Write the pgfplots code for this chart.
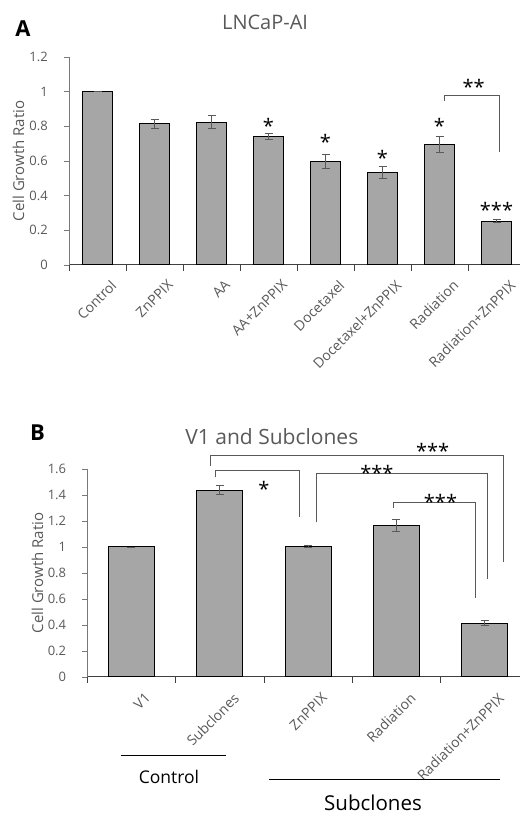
\documentclass[border=0pt]{standalone}
\usepackage{fontspec}
\setmainfont{Open Sans}
\usepackage{pgfplots}
\pgfplotsset{compat=1.18}
\definecolor{barfill}{HTML}{A6A6A6}
\definecolor{txtgray}{HTML}{595959}
\definecolor{errgray}{HTML}{595959}
\definecolor{axgray}{HTML}{404040}
\newcommand{\fs}[1]{\fontsize{#1bp}{#1bp}\selectfont}
\pgfplotsset{
  mybars/.style={
    scale only axis,
    ybar,
    bar shift=0pt,
    ymin=0,
    axis x line*=bottom,
    axis y line*=left,
    x axis line style={draw=axgray, line width=1bp},
    y axis line style={draw=axgray!70, line width=0.8bp},
    tick align=outside,
    xtick=data,
    major x tick style={draw=none},
    minor x tick style={draw=axgray, line width=0.8bp},
    minor tick length=6bp,
    major tick length=5bp,
    y tick style={draw=axgray!70, line width=0.8bp},
    yticklabel style={font=\fs{13}, text=txtgray, inner sep=0pt},
    xticklabel style={font=\fs{14}, text=txtgray, inner sep=0pt, rotate=45, anchor=north east},
    /pgf/number format/assume math mode=true,
    clip=false,
    error bars/y dir=both,
    error bars/y explicit,
    error bars/error bar style={draw=errgray, line width=0.9bp},
    error bars/error mark options={draw=errgray, line width=0.9bp, mark size=4bp, rotate=90},
  }
}
\begin{document}
\begin{tikzpicture}[x=1bp,y=1bp]
\path[use as bounding box] (0,0) rectangle (520,815);
% ---------------- Panel A ----------------
\node[font=\bfseries\fs{22}] at (23,{815-29}) {A};
\begin{axis}[mybars,
  at={(69bp,550bp)}, anchor=south west,
  width=456bp, height=208bp,
  xmin=-0.5, xmax=7.5, ymax=1.2,
  ytick={0,0.2,...,1.2},
  minor xtick={-0.5,0.5,...,7.5},
  bar width=30bp,
  xticklabels={Control,ZnPPIX,AA,AA+ZnPPIX,Docetaxel,Docetaxel+ZnPPIX,Radiation,Radiation+ZnPPIX},
  xticklabel style={xshift=2.5bp, yshift=-15bp},
  yticklabel style={xshift=-16bp},
  ylabel={Cell Growth Ratio},
  every axis y label/.style={at={(axis description cs:-0.111,0.5)}, rotate=90, anchor=center, font=\fs{15}, text=txtgray},
  title={LNCaP-AI},
  every axis title/.style={at={(axis description cs:0.43,1.168)}, anchor=center, font=\fs{20}, text=txtgray},
]
\addplot[fill=barfill, draw=black, line width=1bp] coordinates {
  (0,1.000) +- (0,0)
  (1,0.814) +- (0,0.028)
  (2,0.824) +- (0,0.036)
  (3,0.740) +- (0,0.016)
  (4,0.597) +- (0,0.038)
  (5,0.532) +- (0,0.034)
  (6,0.695) +- (0,0.046)
  (7,0.252) +- (0,0.009)
};
\begin{scope}[every node/.style={font=\fs{20}, inner sep=0pt}]
\node at (axis cs:3,0.80) {*};
\node at (axis cs:4,0.71) {*};
\node at (axis cs:5,0.62) {*};
\node at (axis cs:6,0.80) {*};
\node at (axis cs:7,0.32) {***};
\node at (axis cs:6.6,1.03) {**};
\end{scope}
\draw[errgray, line width=0.9bp] (axis cs:6.08,0.946) -- (axis cs:6.08,0.98) -- (axis cs:7.05,0.98) -- (axis cs:7.05,0.654);
\end{axis}
% ---------------- Panel B ----------------
\node[font=\bfseries\fs{22}] at (37.5,{815-432.5}) {B};
\begin{axis}[mybars,
  at={(87.3bp,138bp)}, anchor=south west,
  width=441.5bp, height=208bp,
  xmin=-0.5, xmax=4.5, ymax=1.6,
  ytick={0,0.2,...,1.6},
  minor xtick={-0.5,0.5,...,4.5},
  bar width=46bp,
  xticklabels={V1,Subclones,ZnPPIX,Radiation,Radiation+ZnPPIX},
  xticklabel style={xshift=2bp, yshift=-16bp},
  yticklabel style={xshift=-16bp},
  ylabel={Cell Growth Ratio},
  every axis y label/.style={at={(axis description cs:-0.113,0.5)}, rotate=90, anchor=center, font=\fs{15}, text=txtgray},
  title={V1 and Subclones},
  every axis title/.style={at={(axis description cs:0.418,1.154)}, anchor=center, font=\fs{21}, text=txtgray},
]
\addplot[fill=barfill, draw=black, line width=1bp] coordinates {
  (0,1.000) +- (0,0)
  (1,1.436) +- (0,0.035)
  (2,1.005) +- (0,0.008)
  (3,1.167) +- (0,0.045)
  (4,0.413) +- (0,0.019)
};
\begin{scope}[errgray, line width=0.9bp]
\draw (axis cs:0.89,1.626) -- (axis cs:0.89,1.703) -- (axis cs:4.216,1.703) -- (axis cs:4.216,0.882);
\draw (axis cs:0.946,1.536) -- (axis cs:0.946,1.587) -- (axis cs:1.897,1.587) -- (axis cs:1.897,1.228);
\draw (axis cs:2.10,1.19) -- (axis cs:2.10,1.567) -- (axis cs:4.03,1.567) -- (axis cs:4.03,0.754);
\draw (axis cs:2.97,1.303) -- (axis cs:2.97,1.346) -- (axis cs:3.90,1.346) -- (axis cs:3.90,0.608);
\end{scope}
\begin{scope}[every node/.style={font=\fs{20}, inner sep=0pt}]
\node at (axis cs:3.41,1.74) {***};
\node at (axis cs:1.5,1.45) {*};
\node at (axis cs:2.78,1.57) {***};
\node at (axis cs:3.5,1.35) {***};
\end{scope}
\end{axis}
% group annotations
\draw[line width=1bp] (120.7,{815-756}) -- (225.7,{815-756});
\node[font=\fs{17.5}] at (169,{815-776.7}) {Control};
\draw[line width=1bp] (269.3,{815-780}) -- (500,{815-780});
\node[font=\fs{20.5}] at (373,{815-803}) {Subclones};
\end{tikzpicture}
\end{document}
